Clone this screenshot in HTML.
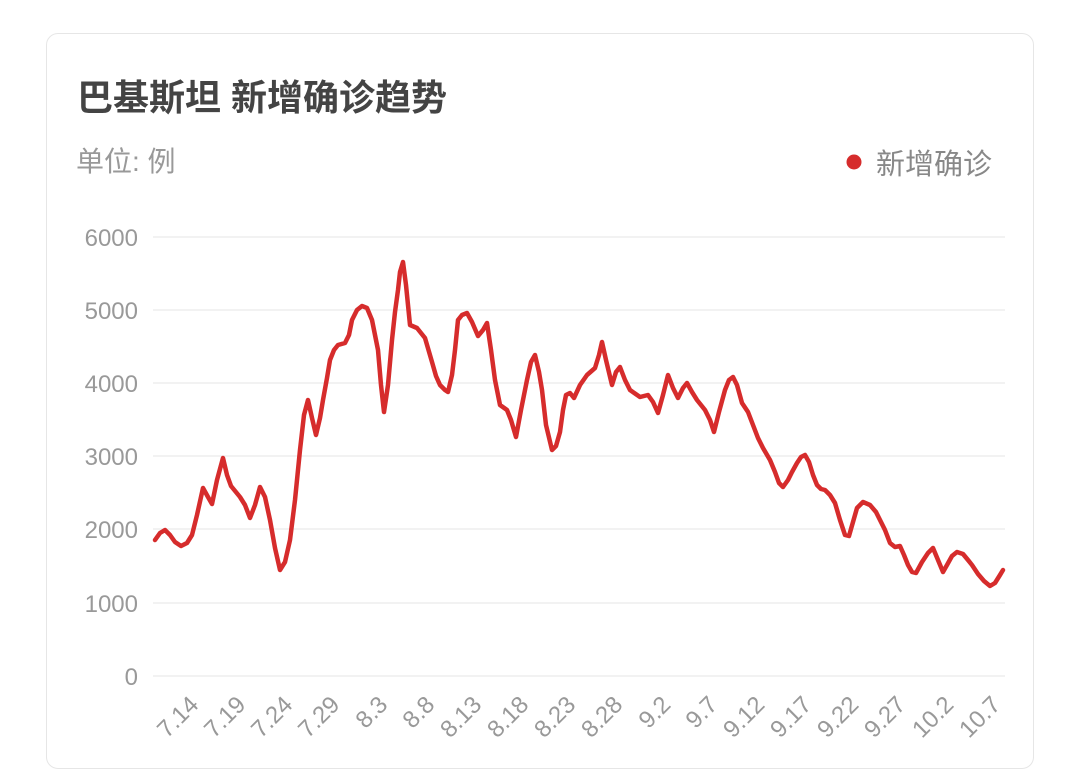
<!DOCTYPE html>
<html><head><meta charset="utf-8"><style>
html,body{margin:0;padding:0;background:#fff;}
body{width:1079px;height:783px;overflow:hidden;position:relative;font-family:"Liberation Sans","Noto Sans CJK SC",sans-serif;}
.card{position:absolute;left:46px;top:33px;width:988px;height:736px;border:1px solid #e6e6e6;border-radius:12px;box-sizing:border-box;}
</style></head><body>
<div class="card"></div>
<svg width="1079" height="783" style="position:absolute;left:0;top:0" font-family="Liberation Sans, Noto Sans CJK SC, sans-serif">
<text x="77" y="110" font-size="36" font-weight="bold" fill="#444">巴基斯坦 新增确诊趋势</text>
<text x="76" y="171" font-size="28" fill="#999">单位: 例</text>
<circle cx="854" cy="162" r="7.5" fill="#d62c2c"/>
<text x="876" y="174" font-size="29" fill="#888">新增确诊</text>
<g stroke="#f2f2f2" stroke-width="2">
<line x1="153" y1="237" x2="1005" y2="237"/><line x1="153" y1="310" x2="1005" y2="310"/>
<line x1="153" y1="383" x2="1005" y2="383"/><line x1="153" y1="456" x2="1005" y2="456"/>
<line x1="153" y1="529" x2="1005" y2="529"/><line x1="153" y1="603" x2="1005" y2="603"/>
<line x1="153" y1="676" x2="1005" y2="676"/>
</g>
<g font-size="24" fill="#999" text-anchor="end">
<text x="138" y="246">6000</text><text x="138" y="319">5000</text><text x="138" y="392">4000</text>
<text x="138" y="465">3000</text><text x="138" y="538">2000</text><text x="138" y="612">1000</text>
<text x="138" y="685">0</text>
</g>
<g font-size="24" fill="#999" text-anchor="end">
<text transform="translate(200,706) rotate(-45)">7.14</text>
<text transform="translate(247,706) rotate(-45)">7.19</text>
<text transform="translate(294,706) rotate(-45)">7.24</text>
<text transform="translate(341,706) rotate(-45)">7.29</text>
<text transform="translate(389,706) rotate(-45)">8.3</text>
<text transform="translate(436,706) rotate(-45)">8.8</text>
<text transform="translate(483,706) rotate(-45)">8.13</text>
<text transform="translate(530,706) rotate(-45)">8.18</text>
<text transform="translate(577,706) rotate(-45)">8.23</text>
<text transform="translate(624,706) rotate(-45)">8.28</text>
<text transform="translate(672,706) rotate(-45)">9.2</text>
<text transform="translate(719,706) rotate(-45)">9.7</text>
<text transform="translate(766,706) rotate(-45)">9.12</text>
<text transform="translate(813,706) rotate(-45)">9.17</text>
<text transform="translate(860,706) rotate(-45)">9.22</text>
<text transform="translate(907,706) rotate(-45)">9.27</text>
<text transform="translate(955,706) rotate(-45)">10.2</text>
<text transform="translate(1002,706) rotate(-45)">10.7</text>
</g>
<polyline fill="none" stroke="#d62c2c" stroke-width="4.5" stroke-linejoin="round" stroke-linecap="round" points="
155,540 160,533 165,530 170,535 175,542 181,546 187,543 192,535 197,515 203,488 208,497 212,504 217,480 223,458 227,475 231,486 240,497 245,505 250,518 255,505 260,487 265,497 270,520 275,548 280,570 285,562 290,540 295,500 300,450 304,415 308,400 312,418 316,435 320,418 323,400 327,378 330,360 334,350 338,345 345,343 349,335 352,320 357,310 362,306 367,308 372,320 375,335 378,350 381,385 384,412 388,385 392,340 395,312 398,290 400,272 403,262 406,285 410,325 417,328 425,338 432,362 436,376 440,385 445,390 448,392 452,375 455,350 458,320 462,315 467,313 472,322 478,336 483,330 487,323 491,350 495,380 500,405 507,410 511,420 516,437 521,410 527,380 531,362 535,355 539,372 542,390 546,425 552,450 556,446 560,432 563,410 566,395 570,393 574,398 580,385 587,375 595,368 599,355 602,342 606,360 612,385 616,372 620,367 625,380 630,390 640,397 648,395 653,402 658,413 663,395 668,375 673,388 678,398 683,388 687,383 692,392 697,400 705,410 710,420 714,432 719,412 725,390 729,380 733,377 737,385 742,403 748,412 753,425 758,438 763,448 770,460 775,472 779,483 783,487 788,480 792,472 797,463 801,457 805,455 809,462 813,475 817,485 821,489 825,490 830,495 835,503 840,520 845,535 849,536 853,522 857,508 863,502 870,505 876,512 880,520 885,530 890,543 895,547 900,546 904,555 908,565 912,572 916,573 922,562 928,553 933,548 938,560 943,572 947,565 952,556 957,552 963,554 968,560 972,565 978,574 984,581 990,586 995,583 1000,575 1003,570"/>
</svg>
</body></html>
